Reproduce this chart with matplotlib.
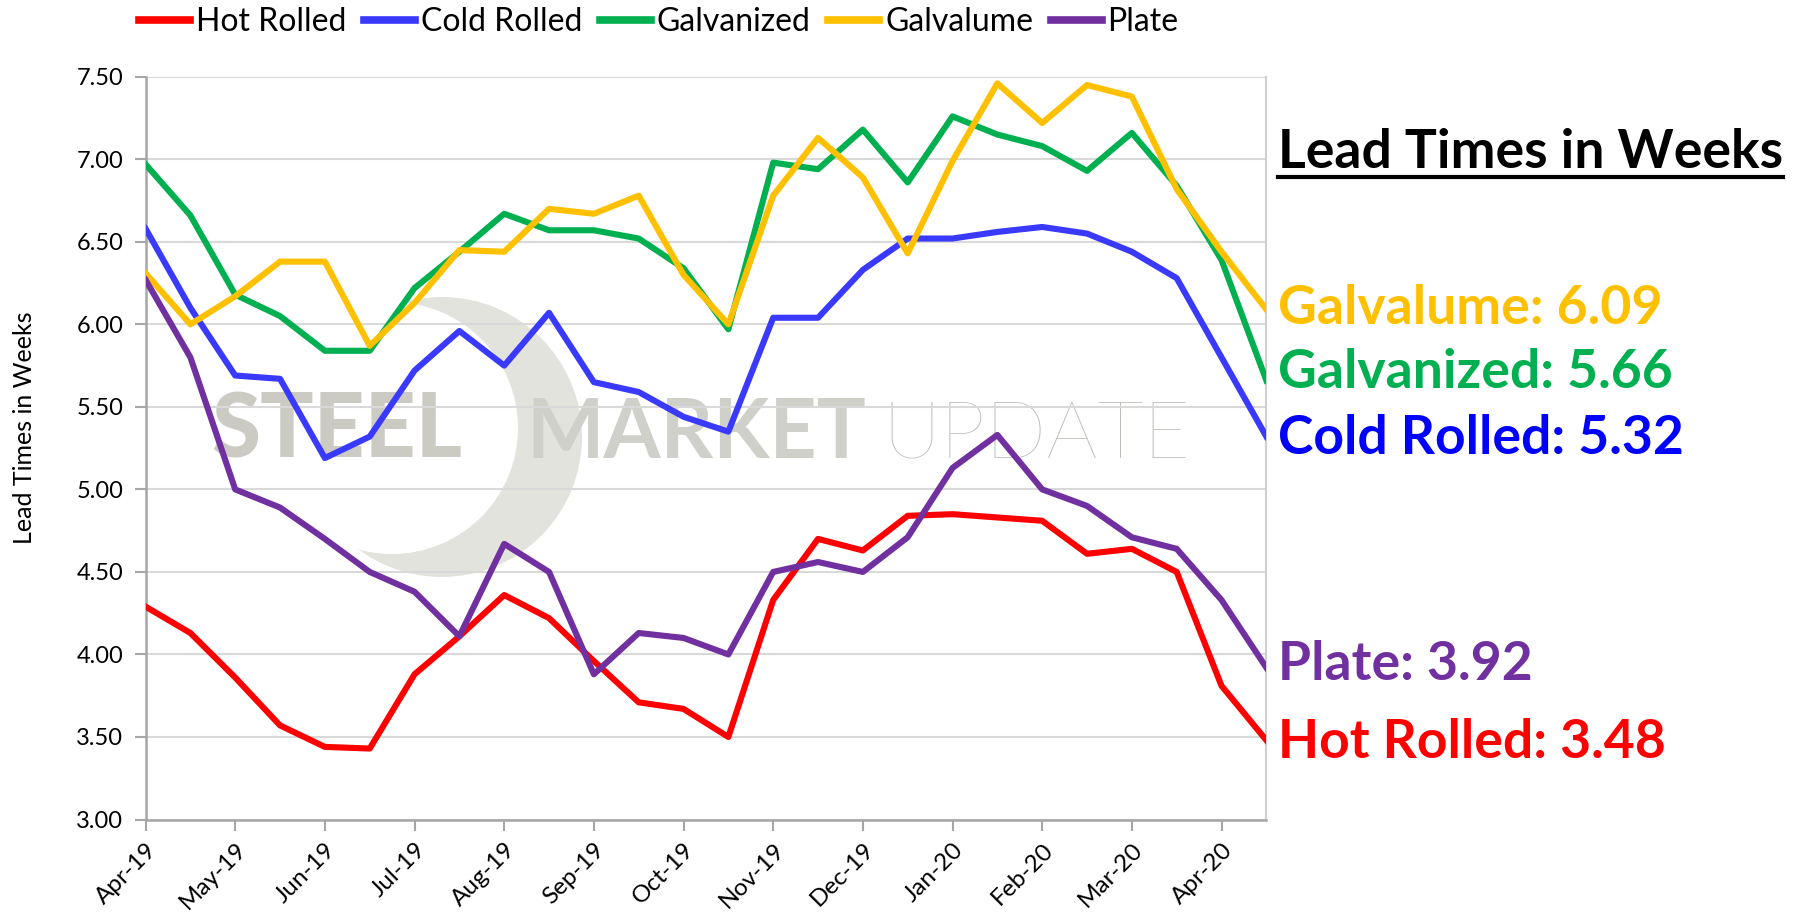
import matplotlib
matplotlib.use("Agg")
import matplotlib.pyplot as plt
from matplotlib.patches import Circle
from matplotlib.transforms import IdentityTransform

# Semi-monthly lead time survey, Apr 2019 - Apr 2020 (weeks)
months = ["Apr-19", "May-19", "Jun-19", "Jul-19", "Aug-19", "Sep-19", "Oct-19",
          "Nov-19", "Dec-19", "Jan-20", "Feb-20", "Mar-20", "Apr-20"]

hot_rolled = [4.29, 4.13, 3.86, 3.57, 3.44, 3.43, 3.88, 4.11, 4.36, 4.22, 3.96, 3.71, 3.67,
              3.50, 4.33, 4.70, 4.63, 4.84, 4.85, 4.83, 4.81, 4.61, 4.64, 4.50, 3.81, 3.48]
cold_rolled = [6.58, 6.10, 5.69, 5.67, 5.19, 5.32, 5.72, 5.96, 5.75, 6.07, 5.65, 5.59, 5.44,
               5.35, 6.04, 6.04, 6.33, 6.52, 6.52, 6.56, 6.59, 6.55, 6.44, 6.28, 5.80, 5.32]
galvanized = [6.97, 6.66, 6.18, 6.05, 5.84, 5.84, 6.22, 6.44, 6.67, 6.57, 6.57, 6.52, 6.34,
              5.97, 6.98, 6.94, 7.18, 6.86, 7.26, 7.15, 7.08, 6.93, 7.16, 6.84, 6.39, 5.66]
galvalume = [6.31, 6.00, 6.17, 6.38, 6.38, 5.87, 6.13, 6.45, 6.44, 6.70, 6.67, 6.78, 6.30,
             6.00, 6.78, 7.13, 6.89, 6.43, 6.99, 7.46, 7.22, 7.45, 7.38, 6.82, 6.44, 6.09]
plate = [6.27, 5.80, 5.00, 4.89, 4.70, 4.50, 4.38, 4.11, 4.67, 4.50, 3.88, 4.13, 4.10,
         4.00, 4.50, 4.56, 4.50, 4.71, 5.13, 5.33, 5.00, 4.90, 4.71, 4.64, 4.33, 3.92]

series_names = ["Hot Rolled", "Cold Rolled", "Galvanized", "Galvalume", "Plate"]
series_values = [hot_rolled, cold_rolled, galvanized, galvalume, plate]
line_colors = ["#FF0000", "#3A3AFF", "#00B050", "#FFC000", "#7030A0"]
label_colors = ["#FF0000", "#0000FF", "#00B050", "#FFC000", "#7030A0"]

plt.rcParams["font.family"] = ["Lato", "DejaVu Sans"]

W, H = 1797, 913
fig = plt.figure(figsize=(W / 100, H / 100), dpi=100)
ax = fig.add_axes([0.081, 0.1024, 0.6237, 0.8135])

x = list(range(len(hot_rolled)))

# faint logo watermark behind the plot
wm_kw = dict(transform=ax.transAxes, va="baseline", ha="left", zorder=0.45)
ax.text(0.059, 0.487, "STEEL", fontsize=64, fontweight="black", color="#cbcbc4", **wm_kw)
ax.text(0.340, 0.487, "MARKET", fontsize=59, fontweight="bold", color="#d0d0ca", **wm_kw)
ax.text(0.657, 0.487, "UPDATE", fontsize=58, fontweight="light", color="#bcbcb5", **wm_kw)

# crescent swoosh: grey disc with an offset white disc on top (pixel space)
ax.add_patch(Circle((442, H - 437), 140, transform=IdentityTransform(),
                    facecolor="#e3e3de", edgecolor="none", zorder=0.1))
ax.add_patch(Circle((392, H - 428), 126, transform=IdentityTransform(),
                    facecolor="white", edgecolor="none", zorder=0.2))

for name, vals, col in zip(series_names, series_values, line_colors):
    ax.plot(x, vals, color=col, lw=4.4, label=name, zorder=3)

ax.set_xlim(0, len(x) - 1)
ax.set_ylim(3.0, 7.5)
yt = [3.0 + 0.5 * i for i in range(10)]
ax.set_yticks(yt)
ax.set_yticklabels([f"{v:.2f}" for v in yt], fontsize=17)
ax.set_xticks(list(range(0, 25, 2)))
ax.set_xticklabels(months, rotation=45, ha="right", rotation_mode="anchor", fontsize=17.5)
ax.grid(axis="y", color="#d9d9d9", lw=1.5)
ax.set_axisbelow(True)
ax.tick_params(axis="both", color="#a6a6a6", length=8, width=1.5, direction="out")
ax.tick_params(axis="y", pad=8)
ax.tick_params(axis="x", pad=6)
for s in ["left", "bottom"]:
    ax.spines[s].set_color("#a6a6a6")
    ax.spines[s].set_linewidth(1.8)
ax.spines["top"].set_visible(False)
ax.spines["right"].set_color("#cfcfcf")
ax.spines["right"].set_linewidth(1.5)
ax.set_ylabel("Lead Times in Weeks", fontsize=18)
ax.yaxis.set_label_coords(-0.098, 0.528)

leg = fig.legend(loc="center", bbox_to_anchor=(0.3667, 0.976), ncol=5, frameon=False,
                 prop={"size": 23}, handlelength=1.6, handletextpad=0.18,
                 columnspacing=0.55, borderaxespad=0, borderpad=0)
for h in leg.get_lines():
    h.set_linewidth(5.5)

# right-hand annotations
fig.text(0.711, 0.8156, "Lead Times in Weeks", fontsize=38.5, fontweight="bold",
         color="black", ha="left", va="baseline")
fig.add_artist(plt.Line2D([0.711, 0.992], [0.806, 0.806], color="black", lw=3,
                          transform=fig.transFigure))

label_y = {"Galvalume": 0.662, "Galvanized": 0.592, "Cold Rolled": 0.520,
           "Plate": 0.272, "Hot Rolled": 0.187}
for name, vals, col in zip(series_names, series_values, label_colors):
    fig.text(0.711, label_y[name], f"{name}: {vals[-1]:.2f}", fontsize=38.5,
             fontweight="bold", color=col, ha="left", va="center")

fig.savefig("out.png", dpi=100)
